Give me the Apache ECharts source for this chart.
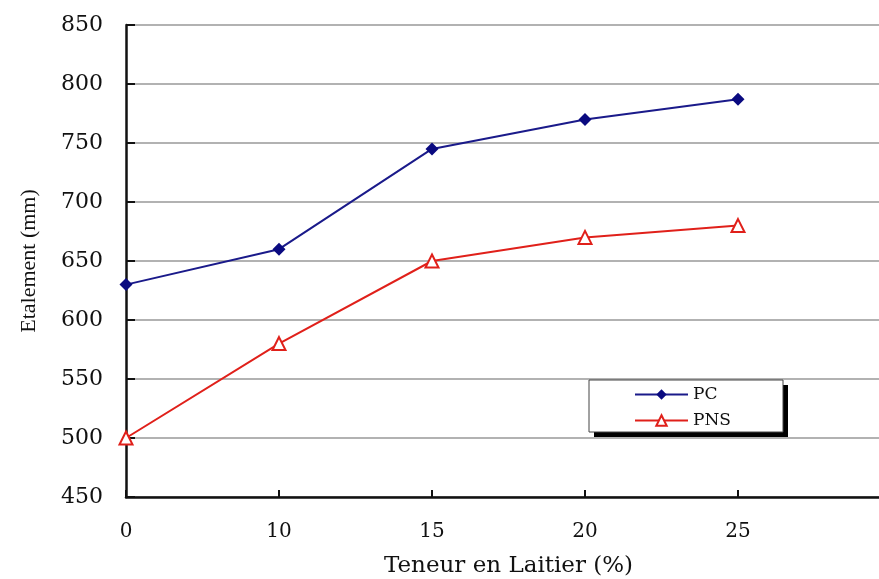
<!DOCTYPE html>
<html>
<head>
<meta charset="utf-8">
<script src="https://cdn.jsdelivr.net/npm/echarts@6/dist/echarts.min.js"></script>
<style>html,body{margin:0;padding:0;background:#fff}#c{width:879px;height:579px}</style>
</head>
<body>
<div id="c"></div>
<script>
const categories = ['0', '10', '15', '20', '25', ''];
const pcValues = [630, 660, 745, 770, 787];
const pnsValues = [500, 580, 650, 670, 680];
const yTicks = { min: 450, max: 850, interval: 50 };

const font = 'DejaVu Serif';
const chart = echarts.init(document.getElementById('c'));
chart.setOption({
  backgroundColor: '#fff',
  animation: false,
  grid: { left: 126, width: 765, top: 25, height: 472, outerBoundsMode: 'none', containLabel: false },
  graphic: [
    { type: 'rect', z: 5, shape: { x: 594, y: 385, width: 194, height: 52 }, style: { fill: '#000' } },
    { type: 'rect', z: 6, shape: { x: 589, y: 380, width: 194, height: 52 }, style: { fill: '#fff', stroke: '#444', lineWidth: 1 } }
  ],
  xAxis: {
    type: 'category',
    data: categories,
    boundaryGap: false,
    name: 'Teneur en Laitier (%)',
    nameLocation: 'middle',
    nameGap: 58,
    nameTextStyle: { fontFamily: font, fontSize: 23, color: '#111' },
    axisLine: { lineStyle: { color: '#111', width: 2.5 } },
    axisTick: { inside: true, length: 7, lineStyle: { color: '#111', width: 2 } },
    axisLabel: { fontFamily: font, fontSize: 20, color: '#111', margin: 25 },
    splitLine: { show: false }
  },
  yAxis: {
    type: 'value',
    min: yTicks.min, max: yTicks.max, interval: yTicks.interval,
    name: 'Etalement (mm)',
    nameLocation: 'middle',
    nameGap: 86,
    nameTextStyle: { fontFamily: 'Liberation Serif', fontSize: 22, color: '#111' },
    axisLine: { show: true, lineStyle: { color: '#111', width: 2.5 } },
    axisTick: { show: true, inside: true, length: 9, lineStyle: { color: '#111', width: 2 } },
    axisLabel: { fontFamily: font, fontSize: 22, color: '#111', margin: 23 },
    splitLine: { show: true, lineStyle: { color: '#999', width: 1.5 } }
  },
  legend: {
    orient: 'vertical',
    left: 589, top: 380,
    z: 10,
    padding: [6, 0, 0, 45],
    itemGap: 9,
    itemWidth: 53, itemHeight: 13,
    textStyle: { fontFamily: font, fontSize: 17, color: '#111' },
    data: ['PC', 'PNS']
  },
  series: [
    {
      name: 'PC', type: 'line', data: pcValues,
      symbol: 'diamond', symbolSize: 13,
      itemStyle: { color: '#0a0a80' },
      lineStyle: { color: '#1a1a8a', width: 2 }
    },
    {
      name: 'PNS', type: 'line', data: pnsValues,
      symbol: 'triangle', symbolSize: 13,
      itemStyle: { color: '#fff', borderColor: '#e0201a', borderWidth: 2 },
      lineStyle: { color: '#e0201a', width: 2 }
    }
  ]
});
</script>
</body>
</html>
